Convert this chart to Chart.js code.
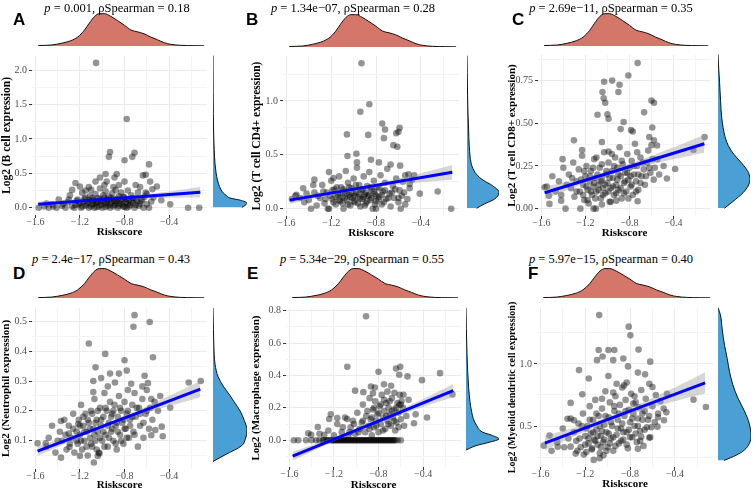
<!DOCTYPE html>
<html>
<head>
<meta charset="utf-8">
<script src="https://cdn.jsdelivr.net/npm/chart.js@4.4.1/dist/chart.umd.min.js"></script>
<style>
  body { margin: 0; background: #fff; }
  #fig { position: relative; width: 753px; height: 490px; overflow: hidden; font-family: 'Liberation Serif', 'Times New Roman', serif; }
  #fig canvas { position: absolute; }
  .title { position: absolute; font-family: 'Liberation Serif', 'Times New Roman', serif; font-size: 12.5px; white-space: nowrap; transform: translate(-50%, -50%); color: #000; }
  .tag { position: absolute; font: bold 17px 'Liberation Sans', Arial, sans-serif; line-height: 17px; color: #000; }
</style>
</head>
<body>
<div id="fig"></div>
<script>
// ---- shared Riskscore axis + its density (same for every panel) ----
const riskscoreMajor = [-1.6, -1.2, -0.8, -0.4];
const riskscoreRange = [-1.63, -0.06];
const riskDensX = [-1.575, -1.46, -1.375, -1.29, -1.23, -1.17, -1.128, -1.08, -1.04, -0.996, -0.94, -0.88, -0.82, -0.76, -0.705, -0.647, -0.588, -0.53, -0.47, -0.41, -0.325, -0.21, -0.12];
const riskDensY = [0.015, 0.03, 0.08, 0.16, 0.27, 0.48, 0.69, 0.9, 0.98, 0.98, 0.9, 0.77, 0.63, 0.48, 0.43, 0.37, 0.27, 0.19, 0.1, 0.05, 0.02, 0.01, 0.005];

const pValues = ['0.001', '1.34e\u221207', '2.69e\u221211', '2.4e\u221217', '5.34e\u221229', '5.97e\u221215'];
const rhoValues = ['0.18', '0.28', '0.35', '0.43', '0.55', '0.40'];
const panelTags = ['A', 'B', 'C', 'D', 'E', 'F'];

// ---- A: B cell ----
const bCellPoints = [
  [-1.055,2.105],[-0.78,1.29],[-0.93,0.81],[-0.94,0.74],[-0.71,0.80],[-0.73,0.74],[-0.80,0.69],[-0.97,0.49],[-0.87,0.49],[-0.96,0.38],
  [-0.89,0.44],[-1.02,0.44],[-1.24,0.36],[-0.635,0.47],[-0.61,0.48],[-0.58,0.63],[-0.57,0.38],[-0.51,0.31],[-1.06,0.38],[-0.80,0.38],
  [-0.85,0.33],[-1.12,0.30],[-0.70,0.33],[-0.39,0.05],[-0.23,0.0],[-0.13,0.0],[-0.47,0.11],[-0.54,0.15],[-0.61,0.22],
  [-1.57,0.0],[-1.52,0.02],[-1.48,0.0],[-1.45,0.05],[-1.41,0.0],[-1.39,0.12],[-1.36,0.03],[-1.33,0.0],[-1.31,0.08],[-1.29,0.18],
  [-1.27,0.02],[-1.25,0.0],[-1.23,0.1],[-1.21,0.05],[-1.19,0.0],[-1.18,0.22],[-1.16,0.13],[-1.15,0.03],[-1.13,0.08],[-1.12,0.0],
  [-1.11,0.17],[-1.1,0.26],[-1.09,0.05],[-1.08,0.11],[-1.07,0.0],[-1.06,0.2],[-1.05,0.07],[-1.04,0.14],[-1.03,0.02],[-1.02,0.28],
  [-1.01,0.1],[-1.0,0.0],[-0.99,0.18],[-0.98,0.06],[-0.97,0.24],[-0.96,0.12],[-0.95,0.03],[-0.94,0.16],[-0.93,0.0],[-0.92,0.08],
  [-0.91,0.21],[-0.9,0.13],[-0.89,0.04],[-0.88,0.26],[-0.87,0.1],[-0.86,0.0],[-0.85,0.17],[-0.84,0.06],[-0.83,0.22],[-0.82,0.12],
  [-0.81,0.02],[-0.8,0.15],[-0.79,0.08],[-0.78,0.0],[-0.77,0.25],[-0.76,0.11],[-0.75,0.04],[-0.74,0.18],[-0.72,0.07],[-0.71,0.0],
  [-0.7,0.13],[-0.68,0.22],[-0.67,0.03],[-0.65,0.1],[-0.63,0.0],[-0.62,0.16],[-0.6,0.05],[-0.58,0.0],[-0.56,0.09],[-0.55,0.27],
  [-1.2,0.31],[-0.98,0.33],
  [-1.24,0.04],[-1.22,0.12],[-1.2,0.07],[-1.18,0.02],[-1.17,0.09],[-1.15,0.15],[-1.14,0.05],[-1.12,0.11],[-1.1,0.02],[-1.09,0.14],
  [-1.08,0.06],[-1.06,0.1],[-1.05,0.01],[-1.04,0.08],[-1.02,0.13],[-1.01,0.04],[-0.99,0.09],[-0.98,0.15],[-0.97,0.01],[-0.96,0.07],
  [-0.94,0.11],[-0.93,0.05],[-0.92,0.14],[-0.9,0.02],[-0.89,0.1],[-0.88,0.06],[-0.86,0.13],[-0.85,0.03],[-0.84,0.1],[-0.82,0.05],
  [-0.81,0.16],[-0.8,0.01],[-0.79,0.12],[-0.77,0.06],[-0.76,0.02],[-0.74,0.09],[-0.73,0.14],[-0.7,0.04],[-0.69,0.1],[-0.66,0.06],
  [-1.3,0.12],[-1.35,0.06],[-1.44,0.02],[-1.5,0.06],[-0.64,0.12],[-0.6,0.2],[-0.66,0.3],[-0.9,0.3],[-1.15,0.25],[-1.27,0.26]
];
const bCellFitX = [-1.575, -0.12];
const bCellFitY = [0.05, 0.225];
const bCellBandX = [-1.575, -1.3, -1.0, -0.7, -0.4, -0.12];
const bCellBandHigh = [0.09, 0.108, 0.134, 0.18, 0.236, 0.30];
const bCellBandLow = [0.01, 0.058, 0.104, 0.13, 0.146, 0.15];
const bCellDensY = [0.0, 0.03, 0.06, 0.1, 0.13, 0.17, 0.2, 0.25, 0.29, 0.38, 0.48, 0.6, 0.8, 1.0, 1.3, 1.6, 2.1];
const bCellDensVal = [0.85, 0.95, 1.0, 0.8, 0.5, 0.38, 0.3, 0.23, 0.19, 0.13, 0.09, 0.06, 0.035, 0.02, 0.01, 0.005, 0.0];
const bCellTicks = [0, 0.5, 1.0, 1.5, 2.0];
const bCellTickLabels = ['0.0', '0.5', '1.0', '1.5', '2.0'];

// ---- B: T cell CD4+ ----
const cd4Points = [
  [-0.93,1.35],[-0.86,0.97],[-0.94,0.90],[-0.745,0.79],[-0.72,0.735],[-0.59,0.75],[-0.60,0.715],[-0.62,0.70],[-1.06,0.69],[-0.87,0.685],
  [-0.73,0.655],[-0.645,0.59],[-0.61,0.575],[-1.055,0.49],[-0.975,0.51],[-0.845,0.455],[-0.775,0.43],[-0.67,0.41],[-0.97,0.43],[-0.41,0.14],
  [-0.25,0.16],[-0.13,0.0],[-0.585,0.40],[-0.51,0.32],[-0.54,0.31],[-1.22,0.34],[-1.18,0.285],[-1.36,0.22],[-1.35,0.15],[-1.51,0.13],
  [-1.44,0.06],[-1.38,0.0],[-1.23,0.0],[-0.58,0.0],[-0.80,0.0],[-1.55,0.09],
  [-1.3,0.1],[-1.28,0.22],[-1.26,0.05],[-1.24,0.15],[-1.22,0.0],[-1.2,0.26],[-1.19,0.09],[-1.17,0.18],[-1.16,0.04],[-1.14,0.13],
  [-1.13,0.3],[-1.12,0.07],[-1.11,0.2],[-1.1,0.11],[-1.09,0.0],[-1.08,0.16],[-1.07,0.35],[-1.06,0.08],[-1.05,0.24],[-1.04,0.13],
  [-1.03,0.03],[-1.02,0.19],[-1.01,0.1],[-1.0,0.28],[-0.99,0.06],[-0.98,0.15],[-0.97,0.38],[-0.96,0.11],[-0.95,0.22],[-0.94,0.02],
  [-0.93,0.17],[-0.92,0.09],[-0.91,0.3],[-0.9,0.13],[-0.89,0.05],[-0.88,0.21],[-0.87,0.12],[-0.86,0.34],[-0.85,0.08],[-0.84,0.18],
  [-0.83,0.0],[-0.82,0.26],[-0.81,0.14],[-0.8,0.07],[-0.79,0.2],[-0.77,0.11],[-0.76,0.31],[-0.75,0.04],[-0.74,0.16],[-0.72,0.24],
  [-0.71,0.09],[-0.7,0.37],[-0.68,0.14],[-0.67,0.02],[-0.65,0.21],[-0.64,0.1],[-0.62,0.28],[-0.6,0.06],[-0.59,0.17],[-0.57,0.12],
  [-0.56,0.25],[-0.54,0.04],[-1.35,0.27],[-1.4,0.08],[-1.45,0.19],[-1.33,0.03],[-1.48,0.1],[-1.52,0.12],[-0.5,0.19],[-0.48,0.27],[-0.52,0.09],
  [-1.21,0.12],[-1.19,0.17],[-1.18,0.06],[-1.16,0.11],[-1.15,0.2],[-1.13,0.08],[-1.12,0.14],[-1.1,0.05],[-1.09,0.18],[-1.08,0.1],
  [-1.06,0.14],[-1.05,0.04],[-1.04,0.2],[-1.03,0.11],[-1.01,0.15],[-1.0,0.07],[-0.99,0.12],[-0.98,0.22],[-0.96,0.05],[-0.95,0.14],
  [-0.94,0.09],[-0.92,0.18],[-0.91,0.11],[-0.9,0.03],[-0.89,0.15],[-0.88,0.07],[-0.86,0.13],[-0.85,0.2],[-0.84,0.1],[-0.82,0.16],
  [-0.81,0.04],[-0.8,0.12],[-0.78,0.09],[-0.77,0.19],[-0.75,0.13],[-0.73,0.06],[-0.72,0.17],[-0.69,0.1],[-0.66,0.15],[-0.63,0.18],
  [-1.25,0.09],[-1.27,0.16],[-1.32,0.12],[-1.42,0.14],[-0.6,0.1],[-0.55,0.15],[-0.5,0.23],[-0.46,0.31]
];
const cd4FitX = [-1.57, -0.12];
const cd4FitY = [0.08, 0.338];
const cd4BandX = [-1.57, -1.3, -1.0, -0.7, -0.4, -0.12];
const cd4BandHigh = [0.115, 0.15, 0.195, 0.257, 0.33, 0.406];
const cd4BandLow = [0.045, 0.106, 0.167, 0.213, 0.246, 0.27];
const cd4DensY = [0.0, 0.04, 0.08, 0.14, 0.2, 0.25, 0.3, 0.37, 0.45, 0.55, 0.7, 0.85, 1.0, 1.2, 1.35];
const cd4DensVal = [0.3, 0.55, 0.85, 1.0, 0.8, 0.5, 0.3, 0.16, 0.1, 0.07, 0.05, 0.03, 0.018, 0.008, 0.0];
const cd4Ticks = [0, 0.5, 1.0];
const cd4TickLabels = ['0.0', '0.5', '1.0'];

// ---- C: T cell CD8+ ----
const cd8Points = [
  [-0.726,0.853],[-0.81,0.78],[-0.957,0.75],[-1.03,0.743],[-0.89,0.726],[-1.045,0.683],[-0.90,0.683],[-1.034,0.646],[-1.02,0.62],[-0.60,0.633],
  [-0.578,0.62],[-0.667,0.564],[-1.09,0.55],[-1.0,0.553],[-0.99,0.527],[-0.853,0.508],[-0.88,0.466],[-0.785,0.46],[-0.77,0.452],[-0.593,0.475],
  [-0.118,0.419],[-1.304,0.40],[-1.23,0.344],[-1.05,0.39],[-0.99,0.335],[-0.62,0.42],[-0.578,0.40],[-0.6,0.372],[-0.49,0.25],[-0.385,0.232],
  [-0.46,0.177],[-0.22,0.345],[-0.548,0.289],[-1.57,0.125],[-1.53,0.075],[-1.526,0.028],[-1.407,0.29],[-1.42,0.047],[-1.38,0.0],[-1.245,0.0],
  [-1.126,0.0],[-1.105,0.0],[-0.726,0.043],[-1.05,0.024],[-0.92,0.047],
  [-1.35,0.2],[-1.33,0.12],[-1.31,0.27],[-1.3,0.07],[-1.28,0.16],[-1.26,0.23],[-1.25,0.1],[-1.23,0.31],[-1.22,0.14],[-1.21,0.05],
  [-1.2,0.19],[-1.19,0.25],[-1.18,0.11],[-1.17,0.03],[-1.16,0.16],[-1.15,0.22],[-1.14,0.08],[-1.13,0.13],[-1.12,0.29],[-1.11,0.18],
  [-1.1,0.1],[-1.08,0.14],[-1.07,0.24],[-1.06,0.06],[-1.05,0.17],[-1.04,0.12],[-1.03,0.33],[-1.02,0.09],[-1.01,0.2],[-1.0,0.15],
  [-0.99,0.27],[-0.98,0.04],[-0.97,0.12],[-0.96,0.22],[-0.95,0.18],[-0.94,0.08],[-0.93,0.3],[-0.92,0.14],[-0.91,0.24],[-0.9,0.11],
  [-0.89,0.36],[-0.88,0.19],[-0.87,0.06],[-0.86,0.26],[-0.85,0.15],[-0.84,0.21],[-0.83,0.1],[-0.82,0.32],[-0.81,0.17],[-0.8,0.24],
  [-0.79,0.13],[-0.78,0.28],[-0.77,0.08],[-0.76,0.2],[-0.75,0.38],[-0.74,0.16],[-0.73,0.25],[-0.72,0.11],[-0.7,0.3],[-0.69,0.19],
  [-0.67,0.23],[-0.66,0.14],[-0.64,0.27],[-0.63,0.34],[-0.61,0.21],[-0.59,0.29],[-0.57,0.24],[-0.55,0.37],[-0.53,0.2],[-1.44,0.16],
  [-1.47,0.1],[-1.4,0.24],[-1.5,0.19],[-1.55,0.13],
  [-1.24,0.17],[-1.22,0.08],[-1.21,0.22],[-1.19,0.13],[-1.18,0.05],[-1.16,0.19],[-1.15,0.1],[-1.13,0.24],[-1.12,0.15],[-1.11,0.06],
  [-1.09,0.2],[-1.08,0.11],[-1.06,0.16],[-1.05,0.26],[-1.04,0.08],[-1.02,0.14],[-1.01,0.22],[-0.99,0.1],[-0.98,0.18],[-0.97,0.04],
  [-0.95,0.13],[-0.94,0.25],[-0.92,0.09],[-0.91,0.17],[-0.9,0.2],[-0.88,0.12],[-0.87,0.28],[-0.85,0.09],[-0.84,0.16],[-0.82,0.21],
  [-0.81,0.06],[-0.79,0.19],[-0.78,0.14],[-0.76,0.25],[-0.74,0.1],[-0.72,0.2],[-0.7,0.15],[-0.68,0.27],[-0.65,0.19],[-0.62,0.24],
  [-1.28,0.1],[-1.32,0.18],[-1.37,0.14],[-1.42,0.08],[-1.1,0.3],[-0.96,0.32],[-0.73,0.33],[-0.58,0.17]
];
const cd8FitX = [-1.57, -0.12];
const cd8FitY = [0.093, 0.38];
const cd8BandX = [-1.57, -1.3, -1.0, -0.7, -0.4, -0.12];
const cd8BandHigh = [0.13, 0.168, 0.219, 0.285, 0.359, 0.433];
const cd8BandLow = [0.056, 0.124, 0.193, 0.245, 0.289, 0.327];
const cd8DensY = [0.0, 0.05, 0.1, 0.16, 0.2, 0.25, 0.3, 0.35, 0.4, 0.5, 0.6, 0.7, 0.8, 0.86];
const cd8DensVal = [0.2, 0.55, 0.85, 1.0, 0.95, 0.75, 0.5, 0.32, 0.22, 0.12, 0.08, 0.05, 0.015, 0.0];
const cd8Ticks = [0, 0.25, 0.5, 0.75];
const cd8TickLabels = ['0.00', '0.25', '0.50', '0.75'];

// ---- D: Neutrophil ----
const neutroPoints = [
  [-0.71,0.521],[-0.72,0.482],[-0.574,0.498],[-1.12,0.426],[-0.973,0.391],[-0.545,0.38],[-1.06,0.346],[-0.80,0.37],[-1.01,0.31],[-0.93,0.325],
  [-0.85,0.325],[-0.78,0.335],[-0.62,0.318],[-0.59,0.293],[-0.74,0.291],[-0.886,0.295],[-0.95,0.282],[-1.08,0.30],[-1.08,0.263],[-0.64,0.282],
  [-0.116,0.30],[-0.224,0.295],[-0.39,0.211],[-0.466,0.147],[-0.457,0.115],[-0.56,0.118],[-0.524,0.136],[-1.58,0.091],[-1.507,0.091],[-1.37,0.166],
  [-1.37,0.043],[-1.30,0.124],[-1.294,0.079],[-1.215,0.156],[-1.04,0.049],[-1.075,0.027],[-1.025,0.057],[-1.2,0.049],
  [-1.38,0.13],[-1.36,0.1],[-1.34,0.17],[-1.32,0.07],[-1.3,0.15],[-1.28,0.11],[-1.26,0.19],[-1.25,0.06],[-1.23,0.13],[-1.22,0.09],
  [-1.21,0.17],[-1.2,0.12],[-1.19,0.22],[-1.18,0.07],[-1.17,0.15],[-1.16,0.1],[-1.15,0.19],[-1.14,0.13],[-1.13,0.05],[-1.12,0.16],
  [-1.11,0.11],[-1.1,0.2],[-1.09,0.08],[-1.08,0.14],[-1.07,0.24],[-1.06,0.1],[-1.05,0.17],[-1.04,0.13],[-1.03,0.06],[-1.02,0.21],
  [-1.01,0.15],[-1.0,0.1],[-0.99,0.18],[-0.98,0.26],[-0.97,0.12],[-0.96,0.2],[-0.95,0.08],[-0.94,0.16],[-0.93,0.23],[-0.92,0.13],
  [-0.91,0.19],[-0.9,0.1],[-0.89,0.22],[-0.88,0.15],[-0.87,0.07],[-0.86,0.18],[-0.85,0.25],[-0.84,0.12],[-0.83,0.2],[-0.82,0.16],
  [-0.81,0.09],[-0.8,0.23],[-0.79,0.14],[-0.78,0.19],[-0.77,0.27],[-0.76,0.11],[-0.75,0.17],[-0.73,0.22],[-0.72,0.13],[-0.71,0.26],
  [-0.7,0.18],[-0.68,0.08],[-0.67,0.21],[-0.66,0.15],[-0.64,0.24],[-0.63,0.11],[-0.61,0.19],[-0.6,0.27],[-0.58,0.14],[-0.57,0.21],
  [-0.55,0.17],[-0.53,0.23],[-0.5,0.2],[-0.48,0.25],[-1.45,0.15],[-1.48,0.11],[-1.42,0.06],[-1.5,0.08],
  [-1.2,0.15],[-1.19,0.1],[-1.17,0.18],[-1.16,0.13],[-1.14,0.08],[-1.13,0.17],[-1.11,0.14],[-1.1,0.09],[-1.09,0.19],[-1.07,0.12],
  [-1.06,0.16],[-1.05,0.07],[-1.04,0.2],[-1.02,0.11],[-1.01,0.17],[-0.99,0.13],[-0.98,0.08],[-0.97,0.21],[-0.95,0.15],[-0.94,0.11],
  [-0.92,0.18],[-0.91,0.14],[-0.9,0.2],[-0.88,0.09],[-0.87,0.16],[-0.86,0.13],[-0.84,0.21],[-0.83,0.1],[-0.81,0.17],[-0.8,0.14],
  [-0.78,0.11],[-0.77,0.2],[-0.75,0.15],[-0.73,0.18],[-0.71,0.12],[-0.69,0.21],[-0.66,0.19],[-0.63,0.16],[-1.23,0.1],[-1.26,0.14],
  [-1.29,0.09],[-1.33,0.12],[-1.4,0.1],[-0.6,0.2],[-0.56,0.24]
];
const neutroFitX = [-1.58, -0.12];
const neutroFitY = [0.065, 0.273];
const neutroBandX = [-1.58, -1.3, -1.0, -0.7, -0.4, -0.12];
const neutroBandHigh = [0.081, 0.115, 0.154, 0.199, 0.25, 0.30];
const neutroBandLow = [0.049, 0.095, 0.142, 0.181, 0.216, 0.246];
const neutroDensY = [0.029, 0.05, 0.08, 0.1, 0.13, 0.16, 0.19, 0.22, 0.24, 0.27, 0.3, 0.34, 0.4, 0.45, 0.52];
const neutroDensVal = [0.0, 0.35, 0.85, 0.95, 1.0, 0.92, 0.8, 0.62, 0.5, 0.3, 0.15, 0.06, 0.025, 0.012, 0.0];
const neutroTicks = [0.1, 0.2, 0.3, 0.4, 0.5];
const neutroTickLabels = ['0.1', '0.2', '0.3', '0.4', '0.5'];

// ---- E: Macrophage ----
const macroPoints = [
  [-0.912,0.765],[-1.08,0.453],[-0.643,0.443],[-0.605,0.453],[-0.54,0.394],[-0.80,0.423],[-0.614,0.404],[-0.41,0.371],[-0.248,0.414],[-0.137,0.283],
  [-1.01,0.306],[-0.936,0.297],[-0.868,0.332],[-0.833,0.326],[-0.751,0.345],[-0.687,0.336],[-0.657,0.293],[-0.576,0.281],[-0.593,0.242],[-0.614,0.219],
  [-0.467,0.16],[-0.482,0.105],[-0.365,0.14],[-1.228,0.16],[-1.243,0.131],[-1.17,0.137],[-1.082,0.131],[-1.345,0.082],[-1.404,0.033],[-1.287,0.033],
  [-1.43,0.043],
  [-1.56,0],[-1.52,0],[-1.45,0],[-1.4,0],[-1.36,0],[-1.33,0],[-1.3,0],[-1.27,0],[-1.25,0],[-1.22,0],
  [-1.2,0],[-1.18,0],[-1.16,0],[-1.14,0],[-1.12,0],[-1.1,0],[-1.08,0],[-1.06,0],[-1.04,0],[-1.02,0],
  [-1.0,0],[-0.98,0],[-0.96,0],[-0.94,0],[-0.92,0],[-0.9,0],[-0.88,0],[-0.86,0],[-0.84,0],[-0.82,0],
  [-0.8,0],[-0.78,0],[-0.76,0],[-0.74,0],[-0.72,0],[-0.7,0],[-0.68,0],[-0.66,0],[-0.63,0],[-0.6,0],
  [-1.29,0],[-1.26,0],[-1.23,0],[-1.21,0],[-1.19,0],[-1.17,0],[-1.15,0],[-1.13,0],[-1.11,0],[-1.09,0],
  [-1.07,0],[-1.05,0],[-1.03,0],[-1.01,0],[-0.99,0],[-0.97,0],[-0.95,0],[-0.93,0],[-0.91,0],[-0.89,0],
  [-0.87,0],[-0.85,0],[-0.83,0],[-0.81,0],[-0.79,0],[-0.77,0],[-0.75,0],[-0.73,0],[-0.71,0],[-0.69,0],
  [-0.67,0],[-0.65,0],
  [-1.33,0.04],[-1.25,0.06],[-1.2,0.03],[-1.17,0.1],[-1.13,0.05],[-1.1,0.14],[-1.07,0.03],[-1.05,0.08],[-1.03,0.12],[-1.01,0.04],
  [-0.99,0.17],[-0.97,0.07],[-0.95,0.11],[-0.94,0.22],[-0.92,0.05],[-0.91,0.15],[-0.89,0.09],[-0.88,0.26],[-0.87,0.13],[-0.86,0.03],
  [-0.85,0.19],[-0.84,0.08],[-0.83,0.24],[-0.82,0.12],[-0.81,0.16],[-0.8,0.05],[-0.79,0.21],[-0.78,0.1],[-0.77,0.28],[-0.76,0.14],
  [-0.75,0.18],[-0.74,0.07],[-0.73,0.23],[-0.72,0.12],[-0.71,0.2],[-0.7,0.16],[-0.69,0.09],[-0.68,0.26],[-0.67,0.14],[-0.66,0.19],
  [-0.65,0.06],[-0.64,0.11],[-0.63,0.23],[-0.62,0.17],[-0.61,0.28],[-0.6,0.13],[-0.58,0.2],[-0.57,0.09],[-0.55,0.15],[-0.53,0.25],
  [-0.94,0.12],[-0.9,0.18],[-0.88,0.07],[-0.86,0.14],[-0.84,0.2],[-0.82,0.09],[-0.8,0.17],[-0.78,0.22],[-0.76,0.06],[-0.75,0.25],
  [-0.73,0.15],[-0.71,0.1],[-0.7,0.24],[-0.68,0.18],[-0.66,0.12],[-0.64,0.2],[-0.62,0.08],[-0.6,0.22],[-0.98,0.05],[-1.02,0.1],
  [-1.06,0.05],[-1.12,0.08],[-0.85,0.29],[-0.72,0.3]
];
const macroFitX = [-1.57, -0.13];
const macroFitY = [-0.098, 0.306];
const macroBandX = [-1.57, -1.3, -1.0, -0.7, -0.4, -0.13];
const macroBandHigh = [-0.071, -0.006, 0.072, 0.16, 0.254, 0.347];
const macroBandLow = [-0.125, -0.038, 0.052, 0.132, 0.206, 0.265];
const macroDensY = [-0.065, -0.04, -0.02, 0.0, 0.02, 0.04, 0.08, 0.12, 0.16, 0.22, 0.3, 0.4, 0.5, 0.65, 0.77];
const macroDensVal = [0.0, 0.3, 0.7, 1.0, 0.8, 0.5, 0.32, 0.22, 0.17, 0.12, 0.08, 0.05, 0.03, 0.01, 0.0];
const macroTicks = [0, 0.2, 0.4, 0.6, 0.8];
const macroTickLabels = ['0.0', '0.2', '0.4', '0.6', '0.8'];

// ---- F: Myeloid dendritic cell ----
const mdcPoints = [
  [-1.075,1.393],[-0.812,1.30],[-0.797,1.23],[-0.993,1.112],[-0.94,1.112],[-1.08,1.112],[-0.724,1.115],[-1.045,1.06],[-1.095,1.03],[-0.86,1.043],
  [-0.95,1.03],[-0.62,1.018],[-1.255,0.95],[-0.818,0.98],[-0.73,0.93],[-1.168,0.883],[-0.993,0.903],[-0.92,0.84],[-0.853,0.827],[-0.666,0.916],
  [-0.628,0.84],[-0.60,0.814],[-0.234,0.712],[-0.123,0.653],[-0.476,0.61],[-0.55,0.571],[-1.226,0.755],[-1.33,0.686],[-1.358,0.559],[-1.3,0.546],
  [-1.57,0.342],[-1.518,0.423],[-1.445,0.334],[-1.387,0.329],[-1.33,0.334],[-1.285,0.278],[-1.212,0.27],[-1.124,0.227],[-1.037,0.265],[-1.07,0.24],
  [-0.73,0.316],[-0.628,0.406],[-0.7,0.413],[-0.555,0.495],[-0.497,0.546],
  [-1.3,0.45],[-1.28,0.38],[-1.26,0.52],[-1.24,0.33],[-1.22,0.6],[-1.2,0.42],[-1.19,0.29],[-1.18,0.5],[-1.17,0.36],[-1.16,0.66],
  [-1.15,0.44],[-1.14,0.31],[-1.13,0.55],[-1.12,0.39],[-1.11,0.71],[-1.1,0.47],[-1.09,0.35],[-1.08,0.58],[-1.07,0.28],[-1.06,0.42],
  [-1.05,0.64],[-1.04,0.37],[-1.03,0.51],[-1.02,0.78],[-1.01,0.45],[-1.0,0.33],[-0.99,0.57],[-0.98,0.69],[-0.97,0.4],[-0.96,0.5],
  [-0.95,0.3],[-0.94,0.62],[-0.93,0.74],[-0.92,0.43],[-0.91,0.55],[-0.9,0.36],[-0.89,0.67],[-0.88,0.48],[-0.87,0.81],[-0.86,0.39],
  [-0.85,0.58],[-0.84,0.71],[-0.83,0.45],[-0.82,0.32],[-0.81,0.63],[-0.8,0.53],[-0.79,0.76],[-0.78,0.41],[-0.77,0.6],[-0.76,0.5],
  [-0.75,0.69],[-0.74,0.37],[-0.73,0.56],[-0.72,0.65],[-0.71,0.46],[-0.7,0.79],[-0.69,0.55],[-0.68,0.34],[-0.67,0.62],[-0.66,0.72],
  [-0.65,0.49],[-0.63,0.58],[-0.62,0.41],[-0.6,0.66],[-0.58,0.53],[-0.57,0.75],[-0.55,0.6],[-0.53,0.7],[-0.5,0.64],[-0.47,0.76],
  [-1.4,0.48],[-1.35,0.4],[-1.33,0.56],[-1.45,0.37],[-1.5,0.3],
  [-1.2,0.35],[-1.19,0.48],[-1.17,0.4],[-1.16,0.55],[-1.14,0.32],[-1.13,0.45],[-1.11,0.38],[-1.1,0.6],[-1.09,0.42],[-1.07,0.5],
  [-1.06,0.33],[-1.05,0.46],[-1.03,0.39],[-1.02,0.58],[-1.01,0.3],[-0.99,0.44],[-0.98,0.36],[-0.97,0.53],[-0.95,0.41],[-0.94,0.66],
  [-0.93,0.34],[-0.91,0.48],[-0.9,0.6],[-0.88,0.38],[-0.87,0.52],[-0.86,0.45],[-0.84,0.62],[-0.83,0.35],[-0.81,0.47],[-0.8,0.41],
  [-0.78,0.56],[-0.77,0.68],[-0.75,0.44],[-0.73,0.5],[-0.71,0.38],[-0.69,0.6],[-0.67,0.47],[-0.64,0.55],[-0.61,0.49],[-1.25,0.4],
  [-1.27,0.3],[-1.23,0.5],[-1.05,0.72],[-0.95,0.77],[-0.83,0.85],[-0.76,0.74]
];
const mdcFitX = [-1.56, -0.13];
const mdcFitY = [0.362, 0.847];
const mdcBandX = [-1.56, -1.3, -1.0, -0.7, -0.4, -0.13];
const mdcBandHigh = [0.42, 0.485, 0.572, 0.686, 0.81, 0.932];
const mdcBandLow = [0.305, 0.415, 0.532, 0.622, 0.70, 0.762];
const mdcDensY = [0.22, 0.26, 0.3, 0.35, 0.41, 0.5, 0.6, 0.7, 0.8, 0.9, 1.0, 1.1, 1.22, 1.34, 1.39];
const mdcDensVal = [0.18, 0.55, 0.8, 0.95, 1.0, 0.95, 0.8, 0.6, 0.45, 0.35, 0.28, 0.2, 0.13, 0.07, 0.0];
const mdcTicks = [0.5, 1.0];
const mdcTickLabels = ['0.5', '1.0'];

// ---- colours ----
const topFill = '#D4766A';
const sideFill = '#4A9FD4';
const pointColor = 'rgba(0,0,0,0.42)';
const bandColor = 'rgba(153,153,153,0.4)';
const fitColor = '#0000FF';
const gridMajor = '#EBEBEB';
const gridMinor = '#F3F3F3';

// layout (page pixels) for each panel
const panels = [
  { yTitle: 'Log2 (B cell expression)', yTitleSize: 11.5, points: bCellPoints, fitX: bCellFitX, fitY: bCellFitY, bandX: bCellBandX, bandHigh: bCellBandHigh, bandLow: bCellBandLow,
    densY: bCellDensY, densVal: bCellDensVal, ticks: bCellTicks, tickLabels: bCellTickLabels, yStep: 0.25, yRange: [-0.105, 2.205],
    canvasLeft: 0, plot: { left: 32, right: 211, top: 48, bottom: 215 }, xAxisH: 24, side: { left: 213, width: 34 }, top: { top: 13, height: 33 },
    titleAt: [117, 8], tagAt: [13, 11] },
  { yTitle: 'Log2 (T cell CD4+ expression)', yTitleSize: 11.5, points: cd4Points, fitX: cd4FitX, fitY: cd4FitY, bandX: cd4BandX, bandHigh: cd4BandHigh, bandLow: cd4BandLow,
    densY: cd4DensY, densVal: cd4DensVal, ticks: cd4Ticks, tickLabels: cd4TickLabels, yStep: 0.25, yRange: [-0.0675, 1.4175],
    canvasLeft: 250, plot: { left: 283, right: 463, top: 48, bottom: 216 }, xAxisH: 24, side: { left: 467, width: 32 }, top: { top: 14, height: 33 },
    titleAt: [353, 8], tagAt: [246, 11] },
  { yTitle: 'Log2 (T cell CD8+ expression)', yTitleSize: 11, points: cd8Points, fitX: cd8FitX, fitY: cd8FitY, bandX: cd8BandX, bandHigh: cd8BandHigh, bandLow: cd8BandLow,
    densY: cd8DensY, densVal: cd8DensVal, ticks: cd8Ticks, tickLabels: cd8TickLabels, yStep: 0.125, yRange: [-0.043, 0.9],
    canvasLeft: 506, plot: { left: 538, right: 715, top: 47, bottom: 216 }, xAxisH: 24, side: { left: 718, width: 32 }, top: { top: 13, height: 33 },
    titleAt: [611, 8], tagAt: [512, 11] },
  { yTitle: 'Log2 (Neutrophil expression)', yTitleSize: 11, points: neutroPoints, fitX: neutroFitX, fitY: neutroFitY, bandX: neutroBandX, bandHigh: neutroBandHigh, bandLow: neutroBandLow,
    densY: neutroDensY, densVal: neutroDensVal, ticks: neutroTicks, tickLabels: neutroTickLabels, yStep: 0.05, yRange: [0.005, 0.545],
    canvasLeft: 0, plot: { left: 32, right: 211, top: 300, bottom: 469 }, xAxisH: 23, side: { left: 213, width: 34 }, top: { top: 268, height: 30 },
    titleAt: [111, 259], tagAt: [13, 265] },
  { yTitle: 'Log2 (Macrophage expression)', yTitleSize: 11, points: macroPoints, fitX: macroFitX, fitY: macroFitY, bandX: macroBandX, bandHigh: macroBandHigh, bandLow: macroBandLow,
    densY: macroDensY, densVal: macroDensVal, ticks: macroTicks, tickLabels: macroTickLabels, yStep: 0.1, yRange: [-0.165, 0.81],
    canvasLeft: 250, plot: { left: 286, right: 465, top: 301, bottom: 467 }, xAxisH: 25, side: { left: 466, width: 33 }, top: { top: 268, height: 30 },
    titleAt: [362, 259], tagAt: [247, 265] },
  { yTitle: 'Log2 (Myeloid dendritic cell expression)', yTitleSize: 10, points: mdcPoints, fitX: mdcFitX, fitY: mdcFitY, bandX: mdcBandX, bandHigh: mdcBandHigh, bandLow: mdcBandLow,
    densY: mdcDensY, densVal: mdcDensVal, ticks: mdcTicks, tickLabels: mdcTickLabels, yStep: 0.25, yRange: [0.17, 1.45],
    canvasLeft: 506, plot: { left: 537, right: 717, top: 300, bottom: 467 }, xAxisH: 24, side: { left: 718, width: 33 }, top: { top: 268, height: 30 },
    titleAt: [611, 259], tagAt: [528, 265] }
];

const fig = document.getElementById('fig');

function addCanvas(left, top, width, height) {
  const c = document.createElement('canvas');
  c.width = width;
  c.height = height;
  c.style.left = left + 'px';
  c.style.top = top + 'px';
  c.style.width = width + 'px';
  c.style.height = height + 'px';
  fig.appendChild(c);
  return c;
}

function pairs(xs, ys) {
  return xs.map((x, i) => ({ x: x, y: ys[i] }));
}

const near = (list, v) => list.findIndex(t => Math.abs(t - v) < 1e-6);
const baseOpts = {
  animation: false,
  responsive: false,
  maintainAspectRatio: false,
  layout: { padding: 0 },
  plugins: { legend: { display: false }, tooltip: { enabled: false } }
};
const tickFont = { family: 'Liberation Serif', size: 10 };
const titleFont = { family: 'Liberation Serif', size: 11, weight: 'bold' };

function drawPanel(p, idx) {
  const plotW = p.plot.right - p.plot.left;
  const plotH = p.plot.bottom - p.plot.top;

  // main scatter with fit line and confidence band
  const main = addCanvas(p.canvasLeft, p.plot.top, p.plot.right - p.canvasLeft, plotH + p.xAxisH);
  new Chart(main, {
    type: 'scatter',
    data: {
      datasets: [
        { type: 'line', data: pairs(p.fitX, p.fitY), borderColor: fitColor, borderWidth: 3, pointRadius: 0, fill: false, order: 0 },
        { type: 'line', data: pairs(p.bandX, p.bandHigh), borderColor: 'rgba(0,0,0,0)', borderWidth: 0, pointRadius: 0,
          tension: 0.3, fill: '+1', backgroundColor: bandColor, order: 1 },
        { type: 'line', data: pairs(p.bandX, p.bandLow), borderColor: 'rgba(0,0,0,0)', borderWidth: 0, pointRadius: 0,
          tension: 0.3, fill: false, order: 2 },
        { data: p.points.map(([x, y]) => ({ x: x, y: y })), pointRadius: 3.3, backgroundColor: pointColor, borderWidth: 0, order: 3 }
      ]
    },
    options: Object.assign({}, baseOpts, {
      scales: {
        x: {
          type: 'linear', min: riskscoreRange[0], max: riskscoreRange[1],
          afterFit: s => { s.height = p.xAxisH; },
          border: { display: false },
          grid: {
            tickLength: 3,
            color: ctx => near(riskscoreMajor, ctx.tick.value) >= 0 ? gridMajor : gridMinor,
            tickColor: ctx => near(riskscoreMajor, ctx.tick.value) >= 0 ? '#333333' : 'rgba(0,0,0,0)'
          },
          ticks: {
            stepSize: 0.2, includeBounds: false, autoSkip: false, maxRotation: 0, padding: -2,
            color: '#4D4D4D', font: tickFont,
            callback: v => near(riskscoreMajor, v) >= 0 ? '\u2212' + Math.abs(v).toFixed(1) : ''
          },
          title: { display: true, text: 'Riskscore', color: '#000', font: titleFont, padding: 0 }
        },
        y: {
          type: 'linear', min: p.yRange[0], max: p.yRange[1],
          afterFit: s => { s.width = p.plot.left - p.canvasLeft; },
          border: { display: false },
          grid: {
            tickLength: 3,
            color: ctx => near(p.ticks, ctx.tick.value) >= 0 ? gridMajor : gridMinor,
            tickColor: ctx => near(p.ticks, ctx.tick.value) >= 0 ? '#333333' : 'rgba(0,0,0,0)'
          },
          ticks: {
            stepSize: p.yStep, includeBounds: false, autoSkip: false, maxTicksLimit: 60, padding: 2,
            color: '#4D4D4D', font: tickFont,
            callback: v => { const i = near(p.ticks, v); return i >= 0 ? p.tickLabels[i] : ''; }
          },
          title: { display: true, text: p.yTitle, color: '#000', padding: 0,
            font: { family: 'Liberation Serif', size: p.yTitleSize, weight: 'bold' } }
        }
      }
    })
  });

  // marginal density of Riskscore on top
  const top = addCanvas(p.plot.left, p.top.top, plotW, p.top.height);
  new Chart(top, {
    type: 'line',
    data: { datasets: [{ data: pairs(riskDensX, riskDensY), fill: 'origin', backgroundColor: topFill, borderColor: '#111',
      borderWidth: 1, pointRadius: 0, cubicInterpolationMode: 'monotone' }] },
    options: Object.assign({}, baseOpts, {
      scales: {
        x: { type: 'linear', display: false, min: riskscoreRange[0], max: riskscoreRange[1] },
        y: { type: 'linear', display: false, min: 0, max: 1 }
      }
    })
  });

  // marginal density of expression on the right
  const side = addCanvas(p.side.left, p.plot.top, p.side.width, plotH);
  new Chart(side, {
    type: 'line',
    data: { datasets: [{ data: p.densY.map((y, i) => ({ x: p.densVal[i], y: y })), fill: 'origin', backgroundColor: sideFill,
      borderColor: '#111', borderWidth: 1, pointRadius: 0, cubicInterpolationMode: 'monotone' }] },
    options: Object.assign({}, baseOpts, {
      indexAxis: 'y',
      scales: {
        x: { type: 'linear', display: false, min: 0, max: 1 },
        y: { type: 'linear', display: false, min: p.yRange[0], max: p.yRange[1] }
      }
    })
  });

  const title = document.createElement('div');
  title.className = 'title';
  title.style.left = p.titleAt[0] + 'px';
  title.style.top = p.titleAt[1] + 'px';
  title.innerHTML = '<i>p</i> = ' + pValues[idx] + ', \u03C1Spearman = ' + rhoValues[idx];
  fig.appendChild(title);

  const tag = document.createElement('div');
  tag.className = 'tag';
  tag.style.left = p.tagAt[0] + 'px';
  tag.style.top = p.tagAt[1] + 'px';
  tag.textContent = panelTags[idx];
  fig.appendChild(tag);
}

panels.forEach(drawPanel);
</script>
</body>
</html>
